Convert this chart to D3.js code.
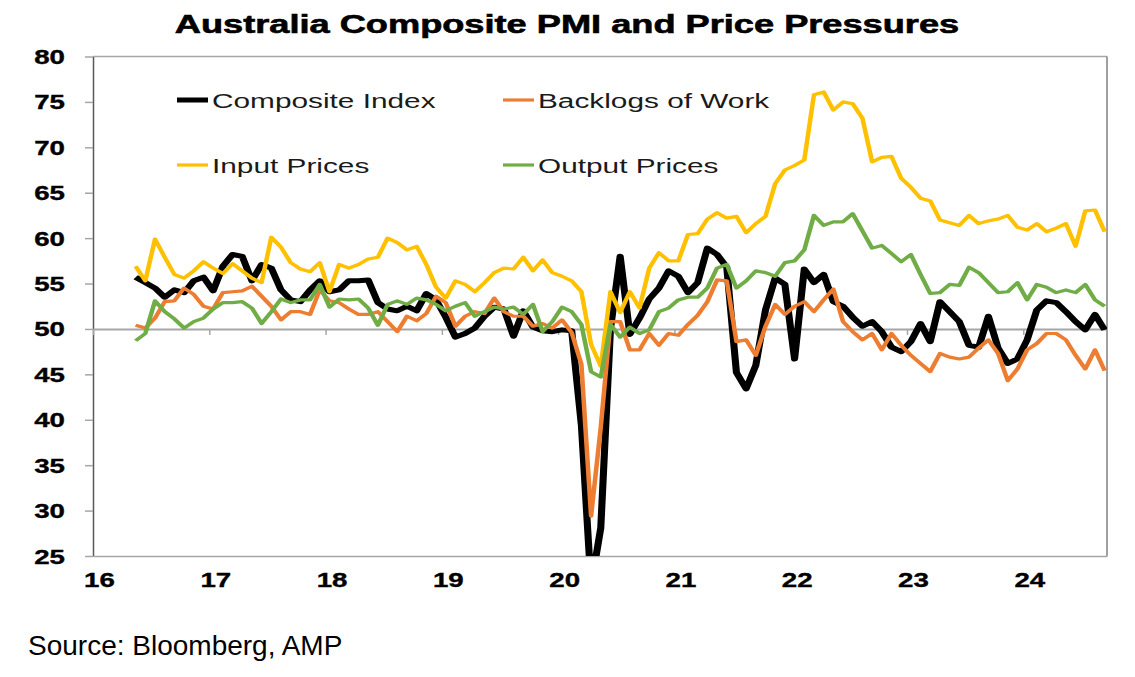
<!DOCTYPE html>
<html>
<head>
<meta charset="utf-8">
<script src="https://cdn.jsdelivr.net/npm/d3@7"></script>
<style>
  body { margin: 0; background: #fff; }
  svg { display: block; font-family: "Liberation Sans", Arial, sans-serif; }
</style>
</head>
<body>
<script>
// monthly readings, May 2016 .. Sep 2024
const startYear = 16, startMonth = 5;

const composite = [
  55.7, 55.1, 54.5, 53.5, 54.3, 54.0, 55.3, 55.7, 54.2, 56.9, 58.2, 58.0,
  55.3, 57.1, 56.7, 54.3, 53.2, 53.0, 54.3, 55.3, 54.1, 54.3, 55.3, 55.3,
  55.4, 52.9, 52.2, 52.0, 52.5, 52.0, 53.9, 53.2, 51.3, 49.1, 49.5, 50.1,
  51.4, 52.4, 52.2, 49.2, 52.0, 50.2, 49.8, 49.7, 49.9, 49.8, 39.4, 21.7,
  28.1, 50.0, 58.0, 49.4, 51.2, 53.3, 54.5, 56.4, 55.8, 54.0, 55.1, 58.9,
  58.2, 56.8, 45.2, 43.4, 46.0, 52.1, 55.6, 54.9, 46.7, 56.6, 55.1, 56.0,
  53.0, 52.5, 51.3, 50.3, 50.8, 49.7, 48.0, 47.5, 48.6, 50.6, 48.6, 53.0,
  51.9, 50.8, 48.2, 48.0, 51.4, 47.9, 46.2, 46.7, 48.8, 52.1, 53.1, 52.9,
  51.9, 50.8, 49.9, 51.6, 49.9
];

const backlogs = [
  50.4, 50.1, 51.2, 53.0, 53.1, 54.5, 53.8, 52.5, 52.2, 54.0, 54.1, 54.2,
  54.7, 53.6, 52.5, 51.0, 51.9, 51.9, 51.6, 54.3, 53.1, 52.9, 52.2, 51.6,
  51.6, 51.9, 50.8, 49.7, 51.4, 50.9, 51.7, 53.6, 52.9, 50.3, 51.4, 51.9,
  51.7, 53.4, 51.9, 51.4, 51.4, 50.3, 50.6, 50.1, 51.0, 49.6, 46.1, 29.4,
  39.2, 50.8, 50.8, 47.7, 47.7, 49.5, 48.2, 49.5, 49.3, 50.5, 51.5, 53.0,
  55.4, 55.3, 48.6, 48.8, 47.1, 50.3, 52.7, 51.6, 52.5, 53.0, 51.9, 53.2,
  54.4, 50.8, 49.7, 48.8, 49.5, 47.7, 49.5, 48.2, 47.1, 46.2, 45.3, 47.3,
  46.9, 46.7, 46.9, 47.9, 48.8, 47.3, 44.3, 45.6, 47.7, 48.4, 49.5, 49.5,
  48.8, 47.1, 45.6, 47.7, 45.4
];

const inputPrices = [
  56.9, 55.3, 59.9, 57.9, 56.0, 55.6, 56.4, 57.4, 56.7, 56.1, 57.2, 56.4,
  55.6, 55.1, 60.1, 59.0, 57.3, 56.6, 56.3, 57.3, 54.1, 57.1, 56.7, 57.1,
  57.7, 57.9, 60.0, 59.5, 58.7, 59.1, 57.1, 54.6, 53.4, 55.3, 54.9, 54.1,
  55.1, 56.2, 56.7, 56.6, 57.9, 56.4, 57.6, 56.2, 55.8, 55.3, 54.1, 48.3,
  45.9, 54.1, 51.8, 54.1, 52.3, 56.7, 58.4, 57.5, 57.5, 60.4, 60.5, 62.1,
  62.8, 62.2, 62.4, 60.6, 61.6, 62.4, 66.0, 67.5, 68.0, 68.6, 75.8, 76.1,
  74.1, 75.0, 74.8, 73.2, 68.4, 68.9, 69.0, 66.6, 65.6, 64.4, 64.1, 62.0,
  61.7, 61.4, 62.5, 61.6, 61.9, 62.1, 62.5, 61.2, 60.9, 61.6, 60.7, 61.1,
  61.6, 59.1, 63.0, 63.1, 60.7
];

const outputPrices = [
  48.7, 49.5, 53.1, 51.9, 51.1, 50.1, 50.8, 51.2, 52.2, 52.9, 52.9, 53.0,
  52.3, 50.6, 51.9, 53.3, 52.9, 53.2, 53.2, 54.9, 52.4, 53.3, 53.2, 53.3,
  52.3, 50.4, 52.7, 53.1, 52.7, 53.4, 53.2, 52.7, 52.0, 52.5, 52.9, 51.4,
  51.9, 52.4, 52.2, 52.4, 51.6, 52.7, 49.7, 50.8, 52.4, 51.9, 50.5, 45.3,
  44.7, 50.5, 49.1, 50.2, 49.5, 49.9, 51.9, 52.3, 53.2, 53.5, 53.5, 54.5,
  56.7, 57.1, 54.5, 55.3, 56.4, 56.2, 55.8, 57.3, 57.5, 58.7, 62.5, 61.4,
  61.8, 61.8, 62.7, 60.8, 58.9, 59.2, 58.3, 57.4, 58.2, 56.0, 53.9, 54.0,
  54.9, 54.8, 56.8, 56.2, 55.1, 54.0, 54.1, 55.1, 53.2, 54.9, 54.6, 54.0,
  54.3, 54.0, 54.9, 53.2, 52.5
];

const yearTicks = [16, 17, 18, 19, 20, 21, 22, 23, 24];
const valueTicks = [25, 30, 35, 40, 45, 50, 55, 60, 65, 70, 75, 80];

const series = [
  { name: "Composite Index", values: composite, color: "#000000", width: 5 },
  { name: "Backlogs of Work", values: backlogs, color: "#ED7D31", width: 3.2 },
  { name: "Input Prices", values: inputPrices, color: "#FFC000", width: 3.2 },
  { name: "Output Prices", values: outputPrices, color: "#70AD47", width: 3.2 }
];

// the source picture was stretched sideways, so its text and strokes are too
const stretch = 1.42;

const W = 1135, H = 677;
const plotLeft = 93, plotRight = 1107, plotTop = 56.5, plotBottom = 556;

const svg = d3.select("body").append("svg")
  .attr("width", W)
  .attr("height", H);

svg.append("rect").attr("width", W).attr("height", H).attr("fill", "#fff");

const x = d3.scaleLinear().domain([16, 24.72]).range([plotLeft, plotRight]);
const y = d3.scaleLinear().domain([25, 80]).range([plotBottom, plotTop]);

const monthPos = i => startYear + (startMonth - 1 + i + 0.4) / 12;

// frame
svg.append("line")
  .attr("x1", plotLeft).attr("x2", plotRight).attr("y1", plotTop).attr("y2", plotTop)
  .attr("stroke", "#a6a6a6").attr("stroke-width", 1.5);
svg.append("line")
  .attr("x1", plotRight).attr("x2", plotRight).attr("y1", plotTop).attr("y2", plotBottom)
  .attr("stroke", "#808080").attr("stroke-width", 1.5);

// y axis
const yAxis = svg.append("g")
  .attr("transform", `translate(${plotLeft},0)`)
  .call(d3.axisLeft(y).tickValues(valueTicks).tickSize(8).tickSizeOuter(0).tickPadding(28));
yAxis.select(".domain").attr("stroke", "#595959").attr("stroke-width", 1.5);
yAxis.selectAll(".tick line").attr("stroke", "#a6a6a6").attr("stroke-width", 1.5);
yAxis.selectAll(".tick text")
  .attr("font-family", "'Liberation Sans', Arial, sans-serif")
  .attr("font-size", 19.5)
  .attr("font-weight", "bold")
  .attr("fill", "#000")
  .attr("stroke", "#000")
  .attr("stroke-width", 0.35)
  .attr("dy", "0.36em")
  .attr("x", -28 / stretch)
  .attr("transform", `scale(${stretch},1)`);

// bottom axis at 25, labels only
const xAxis = svg.append("g")
  .attr("transform", `translate(0,${plotBottom})`)
  .call(d3.axisBottom(x).tickValues(yearTicks).tickSize(0).tickSizeOuter(0).tickPadding(17));
xAxis.select(".domain").attr("stroke", "#a6a6a6").attr("stroke-width", 1.5);
xAxis.selectAll(".tick text")
  .attr("font-family", "'Liberation Sans', Arial, sans-serif")
  .attr("font-size", 19.5)
  .attr("font-weight", "bold")
  .attr("fill", "#000")
  .attr("stroke", "#000")
  .attr("stroke-width", 0.35)
  .attr("transform", `translate(6,0) scale(${stretch},1)`);

// axis crossing at 50 with year ticks
const midAxis = svg.append("g")
  .attr("transform", `translate(0,${y(50)})`)
  .call(d3.axisBottom(x).tickValues(yearTicks).tickSize(6).tickSizeOuter(0).tickFormat(""));
midAxis.select(".domain").attr("stroke", "#a6a6a6").attr("stroke-width", 2);
midAxis.selectAll(".tick line").attr("stroke", "#a6a6a6").attr("stroke-width", 1.5);

// lines, drawn narrow then stretched like the source picture
svg.append("clipPath").attr("id", "plot")
  .append("rect")
  .attr("x", plotLeft).attr("y", plotTop)
  .attr("width", plotRight - plotLeft).attr("height", plotBottom - plotTop);

const line = d3.line()
  .x((d, i) => x(monthPos(i)) / stretch)
  .y(d => y(d));

svg.append("g").attr("clip-path", "url(#plot)")
  .append("g")
  .attr("transform", `scale(${stretch},1)`)
  .selectAll("path")
  .data(series)
  .enter()
  .append("path")
  .attr("d", d => line(d.values))
  .attr("fill", "none")
  .attr("stroke", d => d.color)
  .attr("stroke-width", d => d.width)
  .attr("stroke-linejoin", "round");

// legend
const legendPos = [
  { x: 177, y: 100 },
  { x: 503, y: 100 },
  { x: 177, y: 165 },
  { x: 503, y: 165 }
];

const legend = svg.append("g")
  .selectAll("g")
  .data(series)
  .enter()
  .append("g")
  .attr("transform", (d, i) => `translate(${legendPos[i].x},${legendPos[i].y})`);

legend.append("line")
  .attr("x1", 0).attr("x2", 31)
  .attr("stroke", d => d.color)
  .attr("stroke-width", d => d.width);

legend.append("text")
  .attr("transform", `translate(35,8) scale(${stretch},1)`)
  .attr("font-size", 21)
  .attr("fill", "#1a1a1a")
  .text(d => d.name);

// title
svg.append("text")
  .attr("transform", `translate(567,33) scale(${stretch},1)`)
  .attr("text-anchor", "middle")
  .attr("font-size", 25.5)
  .attr("font-weight", "bold")
  .attr("fill", "#000")
  .attr("stroke", "#000")
  .attr("stroke-width", 0.6)
  .text("Australia Composite PMI and Price Pressures");

// source note
svg.append("text")
  .attr("x", 28)
  .attr("y", 655)
  .attr("font-size", 28)
  .attr("fill", "#000")
  .text("Source: Bloomberg, AMP");
</script>
</body>
</html>
